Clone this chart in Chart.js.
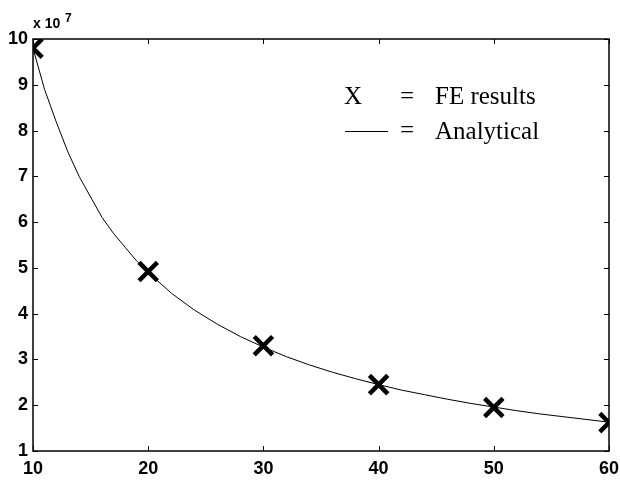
<!DOCTYPE html>
<html>
<head>
<meta charset="utf-8">
<title>FE vs Analytical</title>
<script src="https://cdn.jsdelivr.net/npm/chart.js@4/dist/chart.umd.min.js"></script>
<style>
    html, body { margin: 0; padding: 0; background: #fff; }
    #wrap { width: 620px; height: 481px; }
</style>
</head>
<body>
<div id="wrap"><canvas id="chart" width="620" height="481"></canvas></div>
<script>
// Values (y in units of 1e7)
const analyticalX = [10, 11, 12, 13, 14, 15, 16, 17, 18, 19, 20, 22, 24, 26, 28, 30, 32, 34, 36, 38, 40, 42, 44, 46, 48, 50, 52, 54, 56, 58, 60];
const analyticalY = [9.8, 8.9, 8.2, 7.55, 7.0, 6.55, 6.1, 5.75, 5.45, 5.15, 4.9, 4.45, 4.08, 3.77, 3.5, 3.27, 3.06, 2.88, 2.72, 2.58, 2.45, 2.33, 2.23, 2.13, 2.04, 1.96, 1.88, 1.81, 1.75, 1.69, 1.63];
const feX = [10, 20, 30, 40, 50, 60];
const feY = [9.8, 4.92, 3.3, 2.45, 1.95, 1.62];
const xTicks = [10, 20, 30, 40, 50, 60];
const yTicks = [1, 2, 3, 4, 5, 6, 7, 8, 9, 10];

const tickFont = { family: '"Liberation Sans", Arial, sans-serif', size: 18, weight: 'bold' };

// Frame with inward ticks on all four sides, MATLAB style
const framePlugin = {
    id: 'frame',
    afterDatasetsDraw(chart) {
        const { ctx, chartArea: a, scales } = chart;
        ctx.save();
        ctx.strokeStyle = '#000';
        ctx.lineWidth = 1.5;
        ctx.strokeRect(a.left, a.top, a.right - a.left, a.bottom - a.top);
        ctx.lineWidth = 1;
        ctx.beginPath();
        xTicks.forEach(v => {
            const px = Math.round(scales.x.getPixelForValue(v)) + 0.5;
            ctx.moveTo(px, a.bottom); ctx.lineTo(px, a.bottom - 5);
            ctx.moveTo(px, a.top); ctx.lineTo(px, a.top + 5);
        });
        yTicks.forEach(v => {
            const py = Math.round(scales.y.getPixelForValue(v)) + 0.5;
            ctx.moveTo(a.left, py); ctx.lineTo(a.left + 5, py);
            ctx.moveTo(a.right, py); ctx.lineTo(a.right - 5, py);
        });
        ctx.stroke();

        // exponent label
        ctx.fillStyle = '#000';
        ctx.textBaseline = 'alphabetic';
        ctx.textAlign = 'left';
        ctx.font = 'bold 14px "Liberation Sans", Arial, sans-serif';
        ctx.fillText('x 10', 33, 28);
        ctx.font = 'bold 12px "Liberation Sans", Arial, sans-serif';
        ctx.fillText('7', 65, 22);
        ctx.restore();
    }
};

// Legend text drawn inside the axes
const legendPlugin = {
    id: 'fakeLegend',
    afterDraw(chart) {
        const { ctx } = chart;
        ctx.save();
        ctx.fillStyle = '#000';
        ctx.strokeStyle = '#000';
        ctx.textBaseline = 'middle';
        ctx.textAlign = 'left';
        ctx.font = '25px "Liberation Serif", "Times New Roman", serif';
        ctx.fillText('X', 344, 97);
        ctx.fillText('=', 400, 97);
        ctx.fillText('FE results', 435, 97);
        ctx.lineWidth = 1;
        ctx.beginPath();
        ctx.moveTo(345, 131.5);
        ctx.lineTo(388, 131.5);
        ctx.stroke();
        ctx.fillText('=', 400, 131);
        ctx.fillText('Analytical', 435, 132);
        ctx.restore();
    }
};

new Chart(document.getElementById('chart'), {
    type: 'scatter',
    data: {
        datasets: [{
            label: 'Analytical',
            type: 'line',
            data: analyticalX.map((x, i) => ({ x, y: analyticalY[i] })),
            borderColor: '#000',
            borderWidth: 1,
            pointRadius: 0,
            tension: 0,
            fill: false,
            clip: 0
        }, {
            label: 'FE results',
            data: feX.map((x, i) => ({ x, y: feY[i] })),
            pointStyle: 'crossRot',
            pointRadius: 13,
            pointBorderWidth: 4.5,
            borderColor: '#000',
            backgroundColor: '#000',
            clip: 0
        }]
    },
    options: {
        responsive: false,
        animation: false,
        layout: { autoPadding: false, padding: { top: 39, right: 11, left: 0, bottom: 0 } },
        plugins: { legend: { display: false }, tooltip: { enabled: false } },
        scales: {
            x: {
                type: 'linear',
                min: 10, max: 60,
                afterBuildTicks: s => { s.ticks = xTicks.map(v => ({ value: v })); },
                afterFit: s => { s.height = 30; s.paddingLeft = 0; s.paddingRight = 0; },
                grid: { display: false, drawTicks: false },
                border: { display: false },
                ticks: { color: '#000', font: tickFont, padding: 7, maxRotation: 0 }
            },
            y: {
                type: 'linear',
                min: 1, max: 10,
                afterBuildTicks: s => { s.ticks = yTicks.map(v => ({ value: v })); },
                afterFit: s => { s.width = 33; s.paddingTop = 0; s.paddingBottom = 0; },
                grid: { display: false, drawTicks: false },
                border: { display: false },
                ticks: { color: '#000', font: tickFont, padding: 5 }
            }
        }
    },
    plugins: [framePlugin, legendPlugin]
});
</script>
</body>
</html>
